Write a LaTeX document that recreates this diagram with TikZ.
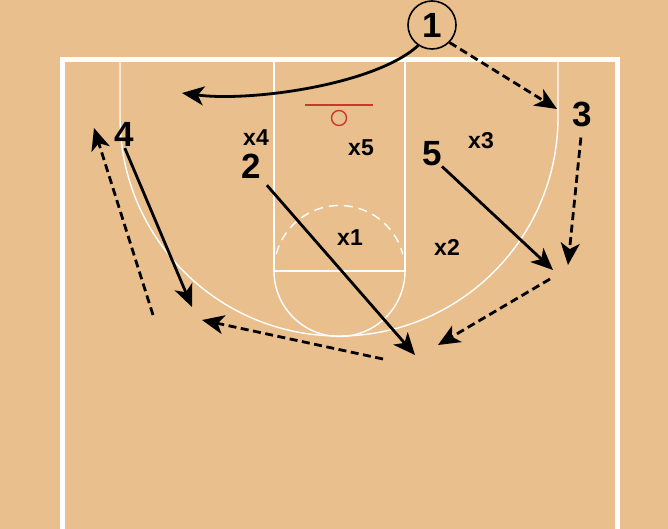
\documentclass[tikz,border=0pt]{standalone}
\usepackage{fontspec}
\setmainfont{Liberation Sans}
\usepackage{xcolor}
\usepackage{tikz}
\usetikzlibrary{arrows.meta, positioning}
\definecolor{courtwood}{RGB}{233, 191, 142}
\definecolor{hoopred}{RGB}{200, 58, 38}

\begin{document}
\begin{tikzpicture}[x=1pt, y=-1pt,
    court/.style={draw=white, line width=1.4pt},
    boundary/.style={draw=white, line width=5pt},
    player/.style={font=\fontsize{35}{35}\selectfont\bfseries, inner sep=0pt},
    defender/.style={font=\fontsize{23}{23}\selectfont\bfseries, inner sep=0pt},
    cut/.style={-{Stealth[length=22pt, width=19pt, inset=6pt]}, line width=2.8pt},
    pass/.style={cut, dash pattern=on 8pt off 4.5pt}
]
    \useasboundingbox (0,0) rectangle (668,529);
    \fill[courtwood] (0,0) rectangle (668,529);

    \draw[boundary] (62,529) -- (62,60) -- (617,60) -- (617,529);
    \draw[court] (274,60) -- (274,271) -- (405,271) -- (405,60);
    \draw[court] (274,271) arc[start angle=180, end angle=0, radius=65.5];
    \draw[court, dash pattern=on 9pt off 6pt] (339.5,271) ++(195:65.5)
        arc[start angle=195, end angle=345, radius=65.5];
    \draw[court] (120,60) -- (120,117) arc[start angle=180, end angle=0, radius=219]
        -- (558,60);

    \draw[hoopred, line width=2.5pt] (305,105) -- (373,105);
    \draw[hoopred, line width=1.4pt] (339,118) circle[radius=7.5];

    \node[player, draw, circle, line width=1.6pt, minimum size=48pt] (p1) at (432,25) {1};
    \node[player] (p2) at (251,166) {2};
    \node[player] (p3) at (582,114) {3};
    \node[player] (p4) at (124,134) {4};
    \node[player] (p5) at (432,154) {5};

    \node[defender] (x1) at (350,238) {x1};
    \node[defender] (x2) at (447,247) {x2};
    \node[defender] (x3) at (481,141) {x3};
    \node[defender] (x4) at (256,138) {x4};
    \node[defender] (x5) at (361,148) {x5};

    \coordinate (dribble) at (182,93);
    \coordinate (wing3) at (557,109);
    \coordinate (spot3) at (568,265);
    \coordinate (spot5) at (553,270);
    \coordinate (pass5a) at (550,279);
    \coordinate (pass5b) at (438,345);
    \coordinate (spot2) at (415,355);
    \coordinate (pass2a) at (383,359);
    \coordinate (pass2b) at (202,320);
    \coordinate (spot4) at (192,307);
    \coordinate (pass4a) at (153,315);
    \coordinate (pass4b) at (94,128);

    \draw[cut] (p1.236) .. controls (375,85) and (250,102) .. (dribble);
    \draw[pass] (p1.-45) -- (wing3);
    \draw[pass, shorten <=11pt] (p3.south) -- (spot3);
    \draw[cut] (p5.south east) -- (spot5);
    \draw[pass] (pass5a) -- (pass5b);
    \draw[cut, shorten <=9pt] (p2.south east) -- (spot2);
    \draw[pass] (pass2a) -- (pass2b);
    \draw[cut, shorten <=2pt] (p4.south) -- (spot4);
    \draw[pass] (pass4a) -- (pass4b);
\end{tikzpicture}
\end{document}
